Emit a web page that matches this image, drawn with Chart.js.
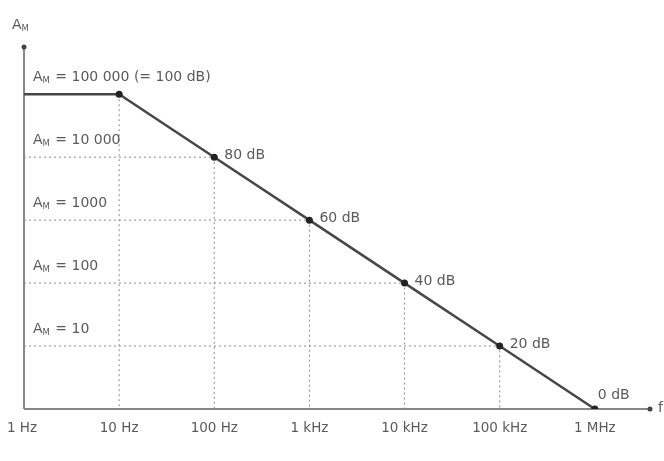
<!DOCTYPE html>
<html>
<head>
<meta charset="utf-8">
<script src="https://cdn.jsdelivr.net/npm/chart.js@4"></script>
<style>
  html, body { margin: 0; padding: 0; background: #fff; }
  canvas { display: block; }
</style>
</head>
<body>
<canvas id="c" width="664" height="461"></canvas>
<script>
// decades above 1 Hz, and the gain in dB at each one
const freqLabels = ['1 Hz', '10 Hz', '100 Hz', '1 kHz', '10 kHz', '100 kHz', '1 MHz'];
const decades = [0, 1, 2, 3, 4, 5, 6];
const gainDb = [100, 100, 80, 60, 40, 20, 0];
const gainText = ['100 000 (= 100 dB)', '10 000', '1000', '100', '10'];
const dbText = ['', '', '80 dB', '60 dB', '40 dB', '20 dB', '0 dB'];

const ink = '#5a5a5a';
const face = '"DejaVu Sans", Verdana, sans-serif';

// dotted drop lines: from the y axis to the point, then down to the x axis
const dropData = [];
for (let i = 1; i < decades.length - 1; i++) {
  if (gainDb[i] !== gainDb[0]) dropData.push({ x: decades[0], y: gainDb[i] });
  dropData.push({ x: decades[i], y: gainDb[i] });
  dropData.push({ x: decades[i], y: 0 });
  dropData.push({ x: decades[i], y: null });
}

const labelsPlugin = {
  id: 'labels',
  beforeDatasetsDraw(chart) {
    const { ctx, scales: { x, y } } = chart;
    const x0 = x.getPixelForValue(0), y0 = y.getPixelForValue(0);
    const xEnd = x.getPixelForValue(x.max), yEnd = y.getPixelForValue(y.max);
    ctx.save();
    ctx.strokeStyle = '#888';
    ctx.lineWidth = 2;
    ctx.beginPath();
    ctx.moveTo(x0, y0); ctx.lineTo(xEnd, y0);
    ctx.moveTo(x0, y0); ctx.lineTo(x0, yEnd);
    ctx.stroke();
    ctx.fillStyle = '#444';
    ctx.beginPath(); ctx.arc(xEnd, y0, 2.5, 0, Math.PI * 2); ctx.fill();
    ctx.beginPath(); ctx.arc(x0, yEnd, 2.5, 0, Math.PI * 2); ctx.fill();
    ctx.restore();
  },
  afterDatasetsDraw(chart) {
    const { ctx, scales: { x, y } } = chart;
    ctx.save();
    ctx.fillStyle = ink;
    ctx.font = '13.5px ' + face;
    ctx.textBaseline = 'middle';

    // tick labels under the x axis
    ctx.textAlign = 'center';
    freqLabels.forEach((t, i) => {
      let px = x.getPixelForValue(decades[i]);
      if (i === 0) px -= 2;
      ctx.fillText(t, px, y.getPixelForValue(0) + 19);
    });

    // A_M = ... labels above each level
    const sub = (txt, px, py) => {
      ctx.textAlign = 'left';
      ctx.font = '14px ' + face;
      ctx.fillText('A', px, py);
      let w = ctx.measureText('A').width;
      ctx.font = '8.5px ' + face;
      ctx.fillText('M', px + w, py + 4);
      w += ctx.measureText('M').width;
      ctx.font = '14px ' + face;
      if (txt) ctx.fillText(' = ' + txt, px + w + 1, py);
    };
    gainText.forEach((t, i) => {
      sub(t, x.getPixelForValue(0) + 9, y.getPixelForValue(gainDb[i + 1]) - 17);
    });
    sub('', 12, y.getPixelForValue(y.max) - 22);

    // dB labels next to the points
    ctx.font = '14px ' + face;
    ctx.textAlign = 'left';
    dbText.forEach((t, i) => {
      if (!t) return;
      const px = x.getPixelForValue(decades[i]);
      const py = y.getPixelForValue(gainDb[i]);
      if (gainDb[i] === 0) ctx.fillText(t, px + 3, py - 14);
      else ctx.fillText(t, px + 10, py - 2);
    });

    ctx.textAlign = 'left';
    ctx.fillText('f', x.getPixelForValue(x.max) + 8, y.getPixelForValue(0) - 1);
    ctx.restore();
  }
};

new Chart(document.getElementById('c'), {
  type: 'line',
  data: {
    datasets: [
      {
        data: decades.map((d, i) => ({ x: d, y: gainDb[i] })),
        borderColor: '#474747',
        borderWidth: 2.5,
        pointRadius: decades.map(d => (d === 0 ? 0 : 3.5)),
        pointBackgroundColor: '#222',
        pointBorderWidth: 0,
        tension: 0,
        order: 1
      },
      {
        data: dropData,
        borderColor: '#8a8a8a',
        borderWidth: 1,
        borderDash: [2, 3],
        pointRadius: 0,
        spanGaps: false,
        tension: 0,
        order: 2
      }
    ]
  },
  options: {
    responsive: false,
    animation: false,
    layout: { padding: { left: 24, right: 14, top: 47, bottom: 52 } },
    plugins: { legend: { display: false }, tooltip: { enabled: false } },
    scales: {
      x: { type: 'linear', min: 0, max: 6.58, display: false },
      y: { type: 'linear', min: 0, max: 115, display: false }
    }
  },
  plugins: [labelsPlugin]
});
</script>
</body>
</html>
